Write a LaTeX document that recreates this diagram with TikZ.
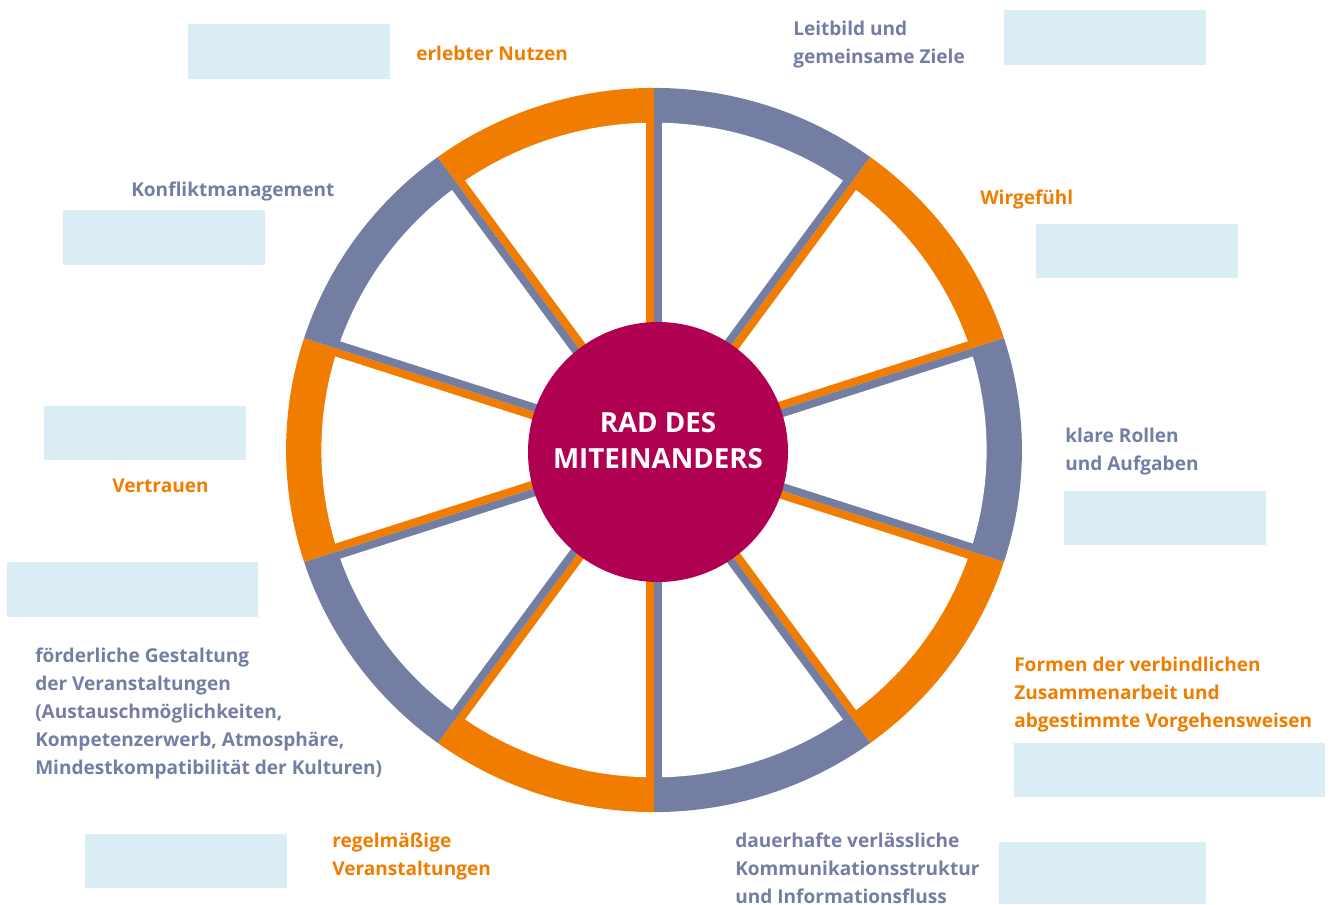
\documentclass[tikz,border=0pt]{standalone}
\usepackage{fontspec}
\setmainfont{Open Sans}
\usepackage{tikz}

\definecolor{radorange}{RGB}{240,124,0}
\definecolor{radgrey}{RGB}{116,126,163}
\definecolor{radmagenta}{RGB}{176,0,82}
\definecolor{radbox}{RGB}{219,237,244}

\newcommand{\lblfont}{\fontsize{14.3}{21}\selectfont\bfseries}
\newcommand{\radfont}{\fontsize{20.8}{27}\selectfont\bfseries}

\begin{document}
\begin{tikzpicture}[x=0.75pt,y=0.75pt,yscale=-1,xscale=1,
  lbl/.style={anchor=north west, inner sep=0pt, align=left, font=\lblfont},
  feld/.style={fill=radbox}]
\useasboundingbox (0,0) rectangle (1334,904);

%Wheel: ten segments, rim and spokes in the segment colour
\begin{scope}[shift={(654,450)}, xscale=1.008, yscale=0.992]
\foreach \a/\c in {-90/radgrey, -54/radorange, -18/radgrey, 18/radorange, 54/radgrey,
                   90/radorange, 126/radgrey, 162/radorange, 198/radgrey, 234/radorange} {
  \fill[\c] (0,0) -- (\a:365) arc[start angle=\a, end angle=\a+36, radius=365] -- cycle;
  \fill[white] (\a+18:26) -- (\a+1.4:330) arc[start angle=\a+1.4, end angle=\a+34.6, radius=330] -- cycle;
}
\end{scope}

%Hub
\node (rad) [circle, fill=radmagenta, inner sep=0pt, minimum size=195pt] at (658,452) {};
\node (radtext) [align=center, text=white, font=\radfont, inner sep=0pt] at ([yshift=-8.25pt]rad.center) {RAD DES\\MITEINANDERS};

%Empty fields
\fill[feld] (188,24) rectangle (390,79);
\fill[feld] (1004,10) rectangle (1206,65);
\fill[feld] (63,210) rectangle (265,265);
\fill[feld] (1036,224) rectangle (1238,278);
\fill[feld] (44,406) rectangle (246,460);
\fill[feld] (1064,491) rectangle (1266,545);
\fill[feld] (7,562) rectangle (258,617);
\fill[feld] (1014,743) rectangle (1325,797);
\fill[feld] (85,834) rectangle (287,888);
\fill[feld] (999,842) rectangle (1206,904);

%Labels
\node (nutzen) [lbl, text=radorange] at (416,46) {erlebter Nutzen};
\node (leitbild) [lbl, text=radgrey] at (793,21) {Leitbild und\\gemeinsame Ziele};
\node (wir) [lbl, text=radorange] at (980,190) {Wirgefühl};
\node (konflikt) [lbl, text=radgrey] at (131,182) {Konfliktmanagement};
\node (rollen) [lbl, text=radgrey] at (1065,428) {klare Rollen\\und Aufgaben};
\node (vertrauen) [lbl, text=radorange] at (112,479) {Vertrauen};
\node (gestaltung) [lbl, text=radgrey] at (35,648) {förderliche Gestaltung\\der Veranstaltungen\\(Austauschmöglichkeiten,\\Kompetenzerwerb, Atmosphäre,\\Mindestkompatibilität der Kulturen)};
\node (formen) [lbl, text=radorange] at (1014,657) {Formen der verbindlichen\\Zusammenarbeit und\\abgestimmte Vorgehensweisen};
\node (regel) [lbl, text=radorange] at (332,833) {regelmäßige\\Veranstaltungen};
\node (dauer) [lbl, text=radgrey] at (735,833) {dauerhafte verlässliche\\Kommunikationsstruktur\\und Informationsfluss};

\end{tikzpicture}
\end{document}
